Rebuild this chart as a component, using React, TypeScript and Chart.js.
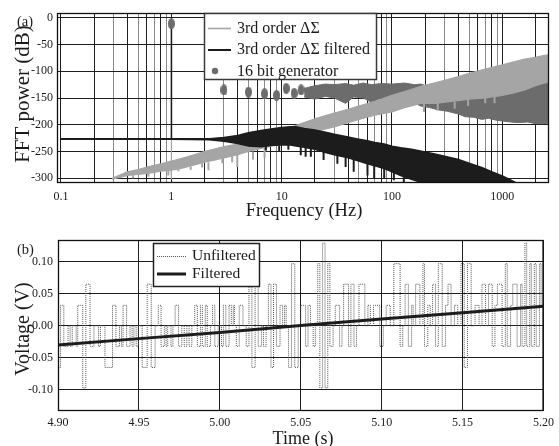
import React, { useEffect, useRef } from 'react';
import { Chart, registerables } from 'chart.js';

Chart.register(...registerables);

const FONT = "'Liberation Serif', 'Times New Roman', serif";
const TXT = '#1a1a1a';
const LIGHT = '#a5a5a5';
const DARK = '#6c6c6c';
const BLACK = '#1c1c1c';

// ---------- Panel (a): FFT spectra ----------
// 3rd order delta-sigma (unfiltered): band edges
const dsFreq = [0.29, 0.35, 0.4, 0.5, 0.6, 0.7, 0.8, 0.9, 0.995, 1.0, 1.005, 1.2, 1.5, 2.0, 2.5, 3.0, 4.0, 5.0, 6.0, 8.0, 10, 12, 16, 20, 25, 30, 40, 50, 70, 100, 130, 183, 250, 300, 400, 500, 700, 1000, 1300, 1600, 2000, 2300, 2660];
const dsUpper = [-300, -293, -288, -284, -279, -276, -273, -271, -268, -12, -268, -264, -258, -250, -245, -241, -236, -232, -227, -220, -212, -205, -196, -189, -183, -178, -171, -165, -156, -145, -138, -128, -121, -117, -110, -104, -96, -88, -82, -77, -74, -71, -69];
const dsLower = [-302, -298, -295, -293, -291, -289, -287, -286, -285, -302, -285, -282, -277, -270, -266, -262, -256, -250, -246, -240, -233, -228, -220, -213, -208, -204, -196, -190, -182, -176, -168, -160, -160, -158, -155, -152, -150, -145, -140, -135, -127, -123, -120];
// downward noise spikes of the unfiltered spectrum (frequency, from, to)
const dsSpikeFreq = [0.45, 0.62, 0.94, 1.16, 1.5, 1.9, 2.17, 2.9, 3.56, 3.96, 5.5, 7, 195, 260, 370, 490, 700, 850];
const dsSpikeFrom = [-292, -290, -286, -282, -278, -272, -270, -263, -259, -257, -250, -246, -160, -160, -157, -152, -150, -147];
const dsSpikeTo = [-300, -297, -295, -287, -284, -280, -285, -272, -270, -279, -265, -262, -176, -174, -170, -165, -160, -160];

// 3rd order delta-sigma filtered: band edges
const filtFreq = [0.1, 0.995, 1.0, 1.005, 2.2, 3.0, 4.0, 5.0, 6.5, 8.0, 10, 12, 13.5, 16, 20, 25, 30, 40, 50, 60, 70, 85, 100, 120, 150, 180, 200, 250, 300, 400, 500, 650, 800, 1000, 1150, 1340];
const filtUpper = [-226, -226, -12, -226, -226, -224, -220, -215, -211, -208, -205, -204, -204, -207, -210, -214, -218, -223, -227, -230, -233, -236, -240, -243, -246, -249, -251, -255, -259, -265, -272, -280, -288, -296, -302, -309];
const filtLower = [-227, -227, -227, -227, -228, -231, -235, -240, -241, -239, -238, -238, -240, -242, -246, -252, -256, -262, -268, -273, -277, -282, -288, -295, -302, -307, -309, -309, -309, -309, -309, -309, -309, -309, -309, -309];
const filtSpikeFreq = [7.2, 9.5, 11.5, 14.9, 16.5, 18.4, 24, 32, 38, 45, 60, 69, 85, 104, 128];
const filtSpikeFrom = [-240, -239, -238, -241, -243, -245, -251, -258, -261, -265, -273, -277, -282, -288, -296];
const filtSpikeTo = [-248, -250, -247, -257, -260, -260, -266, -273, -279, -288, -295, -301, -301, -304, -307];

// 16 bit generator: isolated harmonics (dots) and the dense harmonic band
const genFreq = [1, 3, 5, 7, 9, 11, 13, 15];
const genDb = [-11, -135, -139, -142, -145, -132, -141, -135];
const genBandFreq = [16, 20, 25, 30, 38, 45, 55, 65, 80, 100, 130, 160, 183, 220, 260, 320, 400, 460, 550, 650, 750, 900, 1000, 1200, 1400, 1700, 2000, 2300, 2660];
const genBandTop = [-132, -127, -124, -125, -123, -126, -122, -125, -123, -124, -122, -125, -124, -130, -135, -140, -140, -138, -135, -132, -130, -130, -128, -127, -125, -123, -121, -120, -118];
const genBandBottom = [-148, -152, -147, -150, -160, -148, -150, -158, -150, -152, -150, -160, -165, -168, -172, -175, -180, -185, -186, -190, -188, -192, -193, -195, -196, -195, -198, -198, -197];

const freqTicks = [0.1, 0.2, 0.3, 0.4, 0.5, 0.6, 0.7, 0.8, 0.9, 1, 2, 3, 4, 5, 6, 7, 8, 9, 10, 20, 30, 40, 50, 60, 70, 80, 90, 100, 200, 300, 400, 500, 600, 700, 800, 900, 1000, 2000];
const freqLabels = [0.1, 1, 10, 100, 1000];
const freqOddMinor = [0.3, 0.5, 0.7, 0.9, 3, 5, 7, 9, 30, 50, 70, 90, 300, 500, 700, 900];
const dbTicks = [-300, -250, -200, -150, -100, -50, 0];

// ---------- Panel (b): time domain ----------
const unfTime = [4.9000, 4.9016, 4.9036, 4.9062, 4.9075, 4.9088, 4.9112, 4.9122, 4.9153, 4.9172, 4.9198, 4.9222, 4.9250, 4.9262, 4.9290, 4.9337, 4.9358, 4.9380, 4.9392, 4.9402, 4.9424, 4.9445, 4.9458, 4.9469, 4.9483, 4.9496, 4.9520, 4.9551, 4.9576, 4.9600, 4.9620, 4.9637, 4.9657, 4.9668, 4.9678, 4.9698, 4.9710, 4.9724, 4.9745, 4.9765, 4.9780, 4.9796, 4.9810, 4.9827, 4.9845, 4.9861, 4.9880, 4.9892, 4.9910, 4.9922, 4.9942, 4.9955, 4.9969, 4.9990, 5.0010, 5.0022, 5.0037, 5.0057, 5.0071, 5.0083, 5.0090, 5.0102, 5.0120, 5.0143, 5.0163, 5.0180, 5.0198, 5.0218, 5.0237, 5.0257, 5.0270, 5.0286, 5.0300, 5.0316, 5.0332, 5.0350, 5.0372, 5.0388, 5.0400, 5.0410, 5.0425, 5.0443, 5.0463, 5.0484, 5.0500, 5.0530, 5.0545, 5.0560, 5.0577, 5.0590, 5.0605, 5.0618, 5.0635, 5.0650, 5.0667, 5.0680, 5.0700, 5.0713, 5.0740, 5.0755, 5.0765, 5.0795, 5.0810, 5.0829, 5.0845, 5.0860, 5.0896, 5.0915, 5.0930, 5.0950, 5.0988, 5.1010, 5.1028, 5.1053, 5.1075, 5.1114, 5.1130, 5.1145, 5.1165, 5.1185, 5.1195, 5.1210, 5.1236, 5.1255, 5.1265, 5.1285, 5.1300, 5.1315, 5.1333, 5.1350, 5.1374, 5.1395, 5.1410, 5.1429, 5.1450, 5.1470, 5.1490, 5.1510, 5.1530, 5.1553, 5.1577, 5.1602, 5.1620, 5.1642, 5.1660, 5.1683, 5.1700, 5.1715, 5.1744, 5.1764, 5.1776, 5.1797, 5.1810, 5.1837, 5.1858, 5.1868, 5.1885, 5.1896, 5.1915, 5.1925, 5.1943, 5.1955, 5.1975, 5.1985, 5.2000];
const unfVolt = [0.000, -0.065, 0.032, -0.032, 0.000, -0.032, 0.000, -0.032, 0.032, -0.097, 0.065, -0.032, 0.000, -0.032, 0.000, -0.065, 0.032, -0.032, 0.000, -0.032, 0.032, -0.032, 0.000, -0.032, 0.000, -0.032, 0.000, -0.065, 0.065, -0.065, 0.000, 0.032, -0.032, 0.000, -0.032, 0.000, -0.032, 0.000, 0.032, -0.032, 0.000, -0.032, 0.000, -0.032, 0.000, 0.032, -0.032, 0.032, -0.032, 0.032, -0.032, 0.000, 0.032, -0.032, 0.000, -0.032, 0.032, -0.032, 0.032, 0.000, 0.032, 0.000, -0.032, 0.032, 0.000, -0.032, 0.065, -0.065, 0.065, -0.032, 0.000, -0.032, 0.000, 0.065, -0.065, 0.065, -0.032, 0.032, 0.000, 0.032, 0.000, -0.065, 0.097, -0.065, 0.000, 0.032, -0.032, 0.032, 0.000, -0.032, 0.000, 0.097, -0.097, 0.129, -0.097, 0.097, -0.032, 0.000, 0.032, -0.032, 0.000, 0.065, -0.032, 0.065, -0.032, 0.000, 0.065, 0.000, 0.032, 0.000, 0.032, -0.032, 0.000, 0.032, 0.000, 0.097, -0.032, 0.000, 0.065, -0.032, 0.032, 0.000, 0.065, 0.000, 0.097, -0.032, 0.032, 0.000, 0.065, -0.032, 0.097, -0.032, 0.032, 0.065, 0.000, 0.032, 0.000, 0.097, -0.065, 0.097, 0.000, 0.032, 0.000, 0.065, 0.000, 0.065, -0.032, 0.032, 0.065, -0.032, 0.097, -0.032, 0.032, 0.065, -0.032, 0.065, -0.032, 0.129, -0.032, 0.097, -0.032, 0.097, -0.032, 0.097, 0.032];
const filtTime = [4.90, 4.95, 5.00, 5.05, 5.10, 5.15, 5.20];
const filtVolt = [-0.030, -0.020, -0.0105, 0.0005, 0.0105, 0.0205, 0.0305];
const timeTicks = [4.90, 4.95, 5.00, 5.05, 5.10, 5.15, 5.20];
const voltTicks = [-0.10, -0.05, 0.0, 0.05, 0.10];

const toXY = (xs: number[], ys: number[]) => xs.map((x, i) => ({ x, y: ys[i] }));
const toSpikes = (xs: number[], from: number[], to: number[]) => {
  const out: { x: number; y: number | null }[] = [];
  xs.forEach((x, i) => {
    out.push({ x, y: from[i] }, { x, y: to[i] }, { x, y: null });
  });
  return out;
};

function makeEllipse(w: number, h: number, color: string) {
  const c = document.createElement('canvas');
  c.width = w;
  c.height = h;
  const g = c.getContext('2d')!;
  g.fillStyle = color;
  g.beginPath();
  g.ellipse(w / 2, h / 2, w / 2, h / 2, 0, 0, Math.PI * 2);
  g.fill();
  return c;
}

function frame(chart: any) {
  const { ctx, chartArea: a } = chart;
  ctx.save();
  ctx.strokeStyle = '#111';
  ctx.lineWidth = 1.3;
  ctx.strokeRect(a.left + 0.5, a.top + 0.5, a.right - a.left - 1, a.bottom - a.top - 1);
  ctx.restore();
}

function text(ctx: CanvasRenderingContext2D, s: string, x: number, y: number, size: number, align: CanvasTextAlign = 'left', baseline: CanvasTextBaseline = 'middle', rot = 0) {
  ctx.save();
  ctx.font = `${size}px ${FONT}`;
  ctx.fillStyle = TXT;
  ctx.textAlign = align;
  ctx.textBaseline = baseline;
  ctx.translate(x, y);
  if (rot) ctx.rotate(rot);
  ctx.fillText(s, 0, 0);
  ctx.restore();
}

const topOverlay = {
  id: 'topOverlay',
  afterDatasetsDraw(chart: any) {
    frame(chart);
  },
  afterDraw(chart: any) {
    const ctx: CanvasRenderingContext2D = chart.ctx;
    ctx.save();
    ctx.fillStyle = '#fff';
    ctx.fillRect(204.5, 13.5, 172, 66);
    ctx.strokeStyle = '#3a3a3a';
    ctx.lineWidth = 1.5;
    ctx.strokeRect(204.5, 13.5, 172, 66);
    ctx.lineWidth = 1.6;
    ctx.strokeStyle = LIGHT;
    ctx.beginPath(); ctx.moveTo(208, 28.5); ctx.lineTo(231, 28.5); ctx.stroke();
    ctx.lineWidth = 2;
    ctx.strokeStyle = BLACK;
    ctx.beginPath(); ctx.moveTo(208, 50); ctx.lineTo(231, 50); ctx.stroke();
    ctx.fillStyle = DARK;
    ctx.beginPath(); ctx.arc(215, 71, 3.2, 0, Math.PI * 2); ctx.fill();
    ctx.restore();
    text(ctx, '3rd order ΔΣ', 237, 28.5, 16);
    text(ctx, '3rd order ΔΣ filtered', 237, 50, 16);
    text(ctx, '16 bit generator', 237, 71.5, 16);
    text(ctx, '(a)', 17, 22, 14.5);
    text(ctx, 'FFT power (dB)', 29, 94, 21, 'center', 'alphabetic', -Math.PI / 2);
    text(ctx, 'Frequency (Hz)', 304, 216, 18.5, 'center', 'alphabetic');
  },
};

const botOverlay = {
  id: 'botOverlay',
  afterDatasetsDraw(chart: any) {
    frame(chart);
  },
  afterDraw(chart: any) {
    const ctx: CanvasRenderingContext2D = chart.ctx;
    ctx.save();
    ctx.fillStyle = '#fff';
    ctx.fillRect(153.5, 18.5, 106, 43);
    ctx.strokeStyle = '#222';
    ctx.lineWidth = 1.5;
    ctx.strokeRect(153.5, 18.5, 106, 43);
    ctx.strokeStyle = '#555';
    ctx.lineWidth = 1;
    ctx.setLineDash([1, 1]);
    ctx.beginPath(); ctx.moveTo(157, 31.5); ctx.lineTo(186, 31.5); ctx.stroke();
    ctx.setLineDash([]);
    ctx.strokeStyle = BLACK;
    ctx.lineWidth = 3;
    ctx.beginPath(); ctx.moveTo(157, 49); ctx.lineTo(186, 49); ctx.stroke();
    ctx.restore();
    text(ctx, 'Unfiltered', 192, 31, 15.5);
    text(ctx, 'Filtered', 192, 49, 15.5);
    text(ctx, '(b)', 17, 25, 14.5);
    text(ctx, 'Voltage (V)', 29, 104, 20, 'center', 'alphabetic', -Math.PI / 2);
    text(ctx, 'Time (s)', 303, 219, 18, 'center', 'alphabetic');
  },
};

export default function App() {
  const topRef = useRef<HTMLCanvasElement>(null);
  const botRef = useRef<HTMLCanvasElement>(null);

  useEffect(() => {
    Chart.defaults.font.family = FONT;
    Chart.defaults.color = TXT;
    const dot = makeEllipse(7, 11, DARK);
    const tickFont = { family: FONT, size: 12 };

    const top = new Chart(topRef.current!, {
      type: 'line',
      data: {
        datasets: [
          { label: 'gen band top', data: toXY(genBandFreq, genBandTop), borderColor: DARK, backgroundColor: DARK, borderWidth: 1, pointRadius: 0, fill: '+1', order: 10 },
          { label: 'gen band bottom', data: toXY(genBandFreq, genBandBottom), borderColor: DARK, borderWidth: 1, pointRadius: 0, fill: false, order: 10 },
          { label: '3rd order ΔΣ', data: toXY(dsFreq, dsUpper), borderColor: LIGHT, backgroundColor: LIGHT, borderWidth: 1.2, pointRadius: 0, fill: '+1', order: 8 },
          { label: '3rd order ΔΣ low', data: toXY(dsFreq, dsLower), borderColor: LIGHT, borderWidth: 1.2, pointRadius: 0, fill: false, order: 8 },
          { label: '3rd order ΔΣ spikes', data: toSpikes(dsSpikeFreq, dsSpikeFrom, dsSpikeTo), borderColor: LIGHT, borderWidth: 2, pointRadius: 0, fill: false, spanGaps: false, order: 7 },
          { label: '3rd order ΔΣ filtered', data: toXY(filtFreq, filtUpper), borderColor: BLACK, backgroundColor: BLACK, borderWidth: 1.5, pointRadius: 0, fill: '+1', order: 6 },
          { label: 'filtered low', data: toXY(filtFreq, filtLower), borderColor: BLACK, borderWidth: 1.5, pointRadius: 0, fill: false, order: 6 },
          { label: 'filtered spikes', data: toSpikes(filtSpikeFreq, filtSpikeFrom, filtSpikeTo), borderColor: BLACK, borderWidth: 2, pointRadius: 0, fill: false, spanGaps: false, order: 5 },
          { label: '16 bit generator', data: toXY(genFreq, genDb), showLine: false, pointStyle: dot as any, pointRadius: 4, backgroundColor: DARK, borderColor: DARK, order: 1 },
        ] as any,
      },
      options: {
        responsive: false,
        animation: false,
        events: [],
        layout: { padding: { left: 0, right: 10, top: 13, bottom: 0 } },
        plugins: { legend: { display: false }, tooltip: { enabled: false } },
        scales: {
          x: {
            type: 'logarithmic',
            min: 0.092,
            max: 2650,
            afterBuildTicks: (s: any) => { s.ticks = freqTicks.map((v) => ({ value: v })); },
            afterFit: (s: any) => { s.height = 42; },
            ticks: {
              autoSkip: false,
              maxRotation: 0,
              padding: 7,
              font: tickFont,
              color: TXT,
              callback: (v: any) => (freqLabels.includes(v) ? String(v) : ''),
            },
            grid: {
              drawTicks: false,
              lineWidth: 1,
              color: (c: any) => (c.tick && freqOddMinor.includes(c.tick.value) ? '#8a8a8a' : '#1e1e1e'),
            },
            border: { display: false },
          },
          y: {
            type: 'linear',
            min: -309,
            max: 9,
            afterBuildTicks: (s: any) => { s.ticks = dbTicks.map((v) => ({ value: v })); },
            afterFit: (s: any) => { s.width = 57; },
            ticks: { autoSkip: false, padding: 4, font: tickFont, color: TXT, callback: (v: any) => String(v) },
            grid: { drawTicks: false, lineWidth: 1, color: '#1e1e1e' },
            border: { display: false },
          },
        },
      } as any,
      plugins: [topOverlay],
    });

    const bot = new Chart(botRef.current!, {
      type: 'line',
      data: {
        datasets: [
          { label: 'Filtered', data: toXY(filtTime, filtVolt), borderColor: BLACK, borderWidth: 3, pointRadius: 0, fill: false, order: 1 },
          { label: 'Unfiltered', data: toXY(unfTime, unfVolt), borderColor: '#555', borderWidth: 1, borderDash: [1, 1], stepped: 'after', pointRadius: 0, fill: false, order: 2 },
        ] as any,
      },
      options: {
        responsive: false,
        animation: false,
        events: [],
        layout: { padding: { left: 0, right: 10, top: 15, bottom: 0 } },
        plugins: { legend: { display: false }, tooltip: { enabled: false } },
        scales: {
          x: {
            type: 'linear',
            min: 4.9,
            max: 5.2,
            afterBuildTicks: (s: any) => { s.ticks = timeTicks.map((v) => ({ value: v })); },
            afterFit: (s: any) => { s.height = 35; },
            ticks: { autoSkip: false, maxRotation: 0, padding: 5, font: tickFont, color: TXT, callback: (v: any) => Number(v).toFixed(2) },
            grid: { drawTicks: false, lineWidth: 1, color: '#1e1e1e' },
            border: { display: false },
          },
          y: {
            type: 'linear',
            min: -0.133,
            max: 0.134,
            afterBuildTicks: (s: any) => { s.ticks = voltTicks.map((v) => ({ value: v })); },
            afterFit: (s: any) => { s.width = 58; },
            ticks: { autoSkip: false, padding: 5, font: tickFont, color: TXT, callback: (v: any) => Number(v).toFixed(2) },
            grid: { drawTicks: false, lineWidth: 1, color: '#1e1e1e' },
            border: { display: false },
          },
        },
      } as any,
      plugins: [botOverlay],
    });

    return () => {
      top.destroy();
      bot.destroy();
    };
  }, []);

  return (
    <div style={{ position: 'absolute', left: 0, top: 0, width: 559, height: 446, background: '#fff' }}>
      <canvas ref={topRef} width={559} height={225} style={{ position: 'absolute', left: 0, top: 0, width: 559, height: 225 }} />
      <canvas ref={botRef} width={559} height={221} style={{ position: 'absolute', left: 0, top: 225, width: 559, height: 221 }} />
    </div>
  );
}
